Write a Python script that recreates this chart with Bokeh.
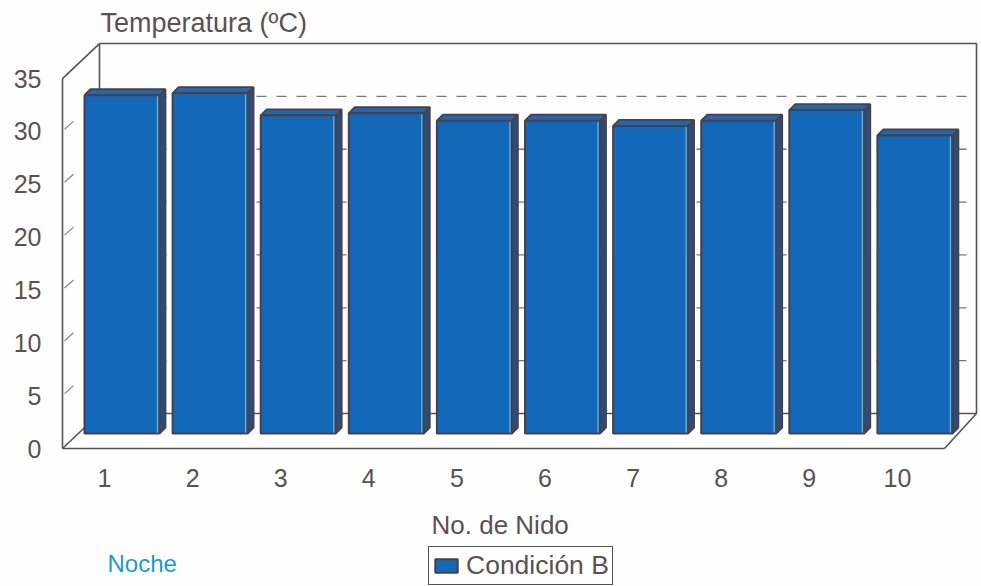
from bokeh.plotting import figure
from bokeh.models import Legend, LegendItem, Label, FixedTicker
from bokeh.embed import file_html
from bokeh.resources import INLINE

nests = [1, 2, 3, 4, 5, 6, 7, 8, 9, 10]
temps = [32.0, 32.2, 30.1, 30.3, 29.6, 29.6, 29.1, 29.6, 30.6, 28.2]
y_ticks = [0, 5, 10, 15, 20, 25, 30, 35]

INK = "#5b5151"
PX_X = 88.1    # pixels per nest
PX_Y = 10.57   # pixels per degree
W, H = 981, 586
ORIGIN_X, ORIGIN_Y = 104, 448  # canvas position of nest 1 / zero degrees


def cx(px):
    return 1 + (px - ORIGIN_X) / PX_X


def cy(py):
    return (ORIGIN_Y - py) / PX_Y


def dx(px):
    return px / PX_X


def dy(px):
    return px / PX_Y


p = figure(width=W, height=H, output_backend="svg", toolbar_location=None,
           x_range=(cx(0), cx(W)), y_range=(cy(H), cy(0)),
           min_border=0,
           background_fill_color="#fefefe", border_fill_color="#fefefe")
p.grid.visible = False
p.outline_line_color = None

# Depth of the 3D box, in data units
BOX_X, BOX_Y = dx(37), dy(35)
AX_START, AX_END = cx(62), cx(944)

# Axes sit inside the frame, on the front edge of the floor and side wall
yax = p.yaxis[0]
yax.fixed_location = AX_START
yax.ticker = FixedTicker(ticks=y_ticks)
yax.bounds = (0, 35)
xax = p.xaxis[0]
xax.fixed_location = 0
xax.ticker = FixedTicker(ticks=nests)
xax.bounds = (AX_START, AX_END)
for ax in (xax, yax):
    ax.axis_line_color = INK
    ax.axis_line_width = 1.6
    ax.major_tick_line_color = None
    ax.minor_tick_line_color = None
    ax.major_label_text_font = "Liberation Sans"
    ax.major_label_text_font_size = "25px"
    ax.major_label_text_color = INK
xax.major_label_standoff = 14
yax.major_label_standoff = 15

# Back wall and floor outline
p.line([AX_START, AX_START + BOX_X, AX_START + BOX_X],
       [35, 35 + BOX_Y, BOX_Y], line_color=INK, line_width=1.6)
p.line([AX_START + BOX_X, AX_START + BOX_X + dx(877), AX_START + BOX_X + dx(877)],
       [35 + BOX_Y, 35 + BOX_Y, BOX_Y], line_color=INK, line_width=1.6)
p.line([AX_START, AX_START + BOX_X, AX_START + BOX_X + dx(877), AX_END],
       [0, BOX_Y, BOX_Y, 0], line_color=INK, line_width=1.6)

# Slanted ticks on the side wall and dashed gridlines on the back wall
for t in y_ticks[1:-1]:
    p.line([AX_START + dx(2), AX_START + dx(11)], [t + dy(2), t + dy(10)],
           line_color="#8a8282", line_width=1.2)
    p.line([AX_START + BOX_X, AX_START + BOX_X + dx(877)], [t + BOX_Y, t + BOX_Y],
           line_color="#7d7575", line_width=1.3, line_dash="10 10", line_dash_offset=3)

# Bars: offset into the box, with a front face, a side and a cap
SHIFT_X, SHIFT_Y = dx(17.5), dy(15)
HALF = dx(37.5)
DEPTH_X, DEPTH_Y = dx(6), dy(6)
lefts = [n + SHIFT_X - HALF for n in nests]
rights = [n + SHIFT_X + HALF for n in nests]
tops = [v + SHIFT_Y for v in temps]

p.patches([[r, r + DEPTH_X, r + DEPTH_X, r] for r in rights],
          [[SHIFT_Y, SHIFT_Y + DEPTH_Y, t + DEPTH_Y, t] for t in tops],
          fill_color="#2a4d80", line_color="#4a4048", line_width=1.8)
p.patches([[l, l + DEPTH_X, r + DEPTH_X, r] for l, r in zip(lefts, rights)],
          [[t, t + DEPTH_Y, t + DEPTH_Y, t] for t in tops],
          fill_color="#2467ad", line_color="#4a4048", line_width=1.8)
front = p.quad(left=lefts, right=rights, bottom=SHIFT_Y, top=tops,
               fill_color="#1468ba", line_color="#4a4048", line_width=2)
p.segment([r - dx(2) for r in rights], [SHIFT_Y + dy(1)] * 10,
          [r - dx(2) for r in rights], [t - dy(1) for t in tops],
          line_color="#5cb4e4", line_width=1.3)

# Texts around the plot
TEXT_STYLE = dict(text_font="Liberation Sans", text_baseline="alphabetic")
p.add_layout(Label(x=cx(100), y=cy(22), text="Temperatura (ºC)",
                   text_font_size="27px", text_color=INK, **TEXT_STYLE))
p.add_layout(Label(x=cx(431), y=cy(524), text="No. de Nido",
                   text_font_size="26px", text_color=INK, **TEXT_STYLE))
p.add_layout(Label(x=cx(107), y=cy(563), text="Noche",
                   text_font_size="24px", text_color="#1b9ad2", **TEXT_STYLE))

legend = Legend(items=[LegendItem(label="Condición B", renderers=[front])],
                location=(428, 1), orientation="horizontal",
                label_text_font="Liberation Sans", label_text_font_size="26.5px",
                label_text_color=INK, border_line_color=INK, border_line_width=1.6,
                border_line_alpha=1,
                background_fill_color="#fefefe", background_fill_alpha=1,
                glyph_width=28, glyph_height=17, padding=3, margin=0,
                label_standoff=6, spacing=0)
p.add_layout(legend)

open("out.html", "w").write(file_html(p, INLINE))
